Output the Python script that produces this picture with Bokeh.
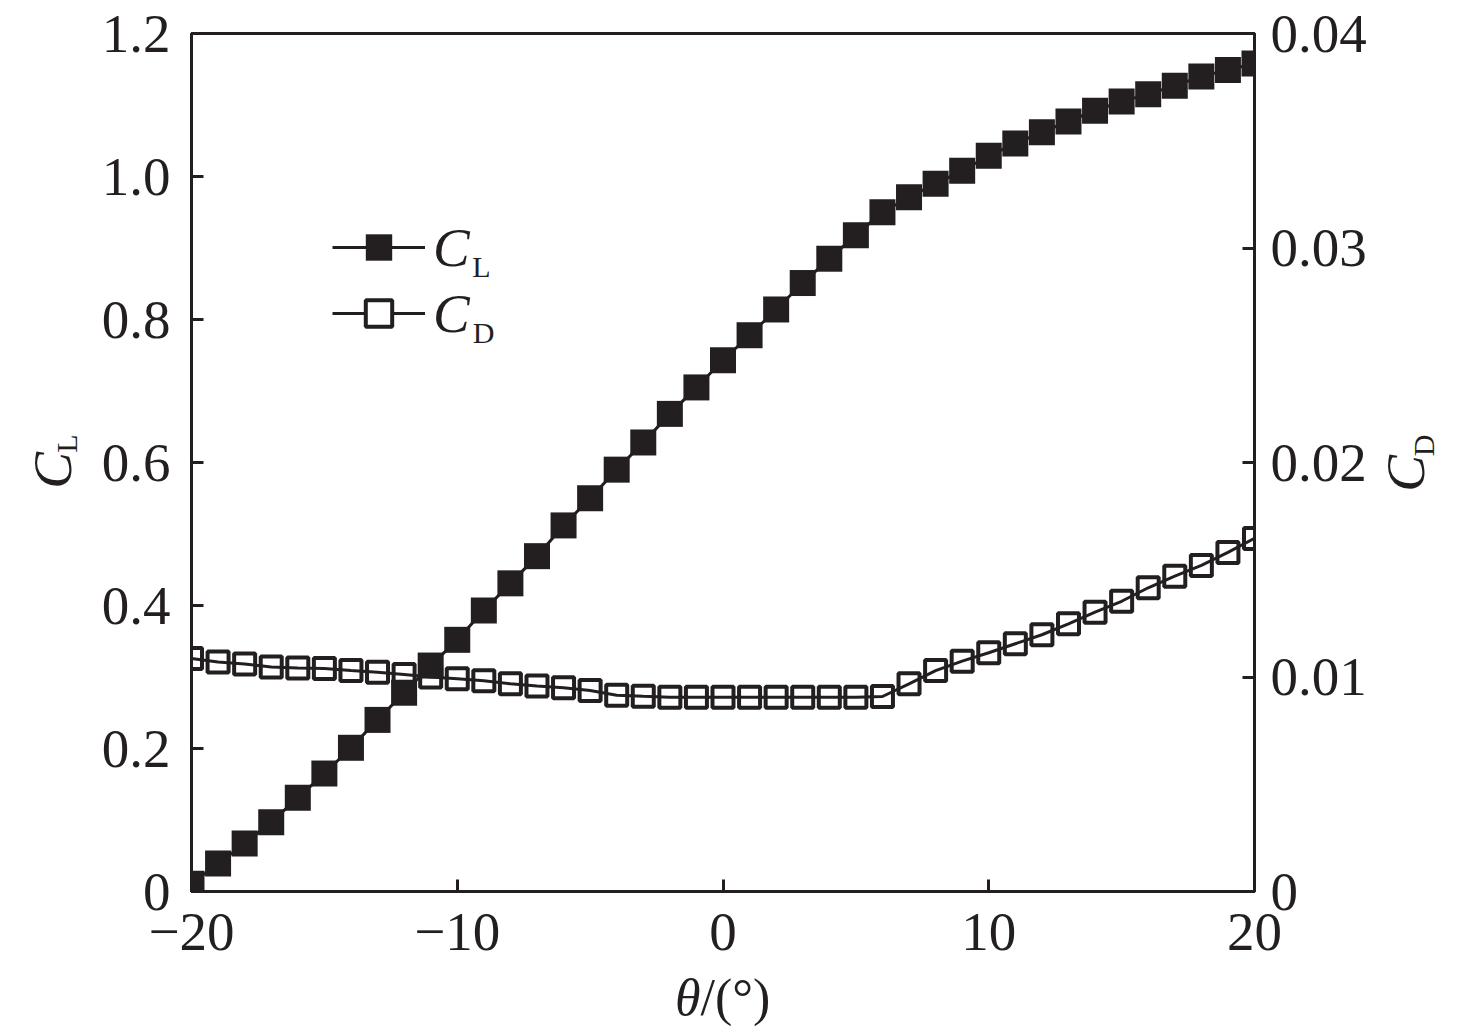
from bokeh.plotting import figure
from bokeh.models import (Range1d, LinearAxis, FixedTicker, CustomJSTickFormatter,
                          Legend, LegendItem, Label)
from bokeh.embed import file_html
from bokeh.resources import INLINE
import math

theta = list(range(-20, 21))
cl = [0.011, 0.039, 0.067, 0.097, 0.131, 0.165, 0.201, 0.240, 0.278, 0.316,
      0.352, 0.393, 0.431, 0.469, 0.512, 0.550, 0.590, 0.628, 0.668, 0.705,
      0.743, 0.778, 0.814, 0.851, 0.885, 0.918, 0.950, 0.971, 0.990, 1.008,
      1.029, 1.046, 1.062, 1.077, 1.092, 1.105, 1.115, 1.127, 1.140, 1.149, 1.158]
cd = [0.01086, 0.01070, 0.01061, 0.01047, 0.01042, 0.01040, 0.01030, 0.01022, 0.01012, 0.01000,
      0.00992, 0.00982, 0.00968, 0.00958, 0.00950, 0.00937, 0.00915, 0.00910, 0.00906, 0.00906,
      0.00906, 0.00906, 0.00906, 0.00906, 0.00906, 0.00906, 0.00909, 0.00968, 0.01030, 0.01074,
      0.01113, 0.01155, 0.01197, 0.01248, 0.01302, 0.01353, 0.01416, 0.01470, 0.01520, 0.01581, 0.01646]

x_ticks = [-20, -10, 0, 10, 20]
cl_ticks = [0, 0.2, 0.4, 0.6, 0.8, 1.0, 1.2]
cd_ticks = [0, 0.01, 0.02, 0.03, 0.04]

INK = "#231f20"
FONT = "Liberation Serif"
TICK_FS = "55px"

p = figure(frame_width=1063, frame_height=858,
           min_border_left=191, min_border_right=214,
           min_border_top=33, min_border_bottom=132,
           x_range=Range1d(-20, 20), y_range=Range1d(0, 1.2),
           output_backend="svg", toolbar_location=None)
p.extra_y_ranges = {"cd": Range1d(0, 0.04)}
p.grid.visible = False
p.background_fill_color = "white"
p.border_fill_color = "white"
p.outline_line_color = INK
p.outline_line_width = 3

# renderers
cd_sq = p.scatter(theta, cd, y_range_name="cd", marker="square", size=21,
                  fill_color="white", line_color=INK, line_width=4)
cd_ln = p.line(theta, cd, y_range_name="cd", line_color=INK, line_width=3)
cl_ln = p.line(theta, cl, line_color=INK, line_width=3)
cl_sq = p.scatter(theta, cl, marker="square", size=26, fill_color=INK, line_color=INK, line_width=0)

def style_axis(ax):
    ax.axis_line_color = INK
    ax.axis_line_width = 3
    ax.major_tick_line_color = INK
    ax.major_tick_line_width = 3
    ax.major_tick_in = 12
    ax.major_tick_out = 0
    ax.minor_tick_line_color = None
    ax.major_label_text_font = FONT
    ax.major_label_text_font_size = TICK_FS
    ax.major_label_text_color = INK

xa = p.xaxis[0]
style_axis(xa)
xa.ticker = FixedTicker(ticks=x_ticks)
xa.formatter = CustomJSTickFormatter(code="return tick < 0 ? '\u2212' + Math.abs(tick) : String(tick);")
xa.major_label_standoff = 22

ya = p.yaxis[0]
style_axis(ya)
ya.ticker = FixedTicker(ticks=cl_ticks)
ya.formatter = CustomJSTickFormatter(code="return tick == 0 ? '0' : tick.toFixed(1);")
ya.major_label_standoff = 21

ra = LinearAxis(y_range_name="cd")
style_axis(ra)
ra.ticker = FixedTicker(ticks=cd_ticks)
ra.formatter = CustomJSTickFormatter(code="return tick == 0 ? '0' : tick.toFixed(2);")
ra.major_label_standoff = 16
p.add_layout(ra, "right")

# legend
legend = Legend(items=[LegendItem(label="C", renderers=[cl_ln, cl_sq]),
                       LegendItem(label="C", renderers=[cd_ln, cd_sq])],
                location=(141, 545), glyph_width=93, glyph_height=66,
                label_standoff=8, spacing=0, padding=0, margin=0,
                border_line_color=None, background_fill_alpha=0,
                label_text_font=FONT, label_text_font_style="italic",
                label_text_font_size="55px", label_text_color=INK)
p.add_layout(legend, "center")

def lab(text, px, py, size, style="normal", angle=0.0, align="center", place="center"):
    # positions in page pixels, converted to offsets from the frame's lower-left corner
    p.add_layout(Label(x=-20, y=0, x_offset=px - 191, y_offset=891 - py, text=text,
                       text_font=FONT, text_font_size=size, text_font_style=style,
                       text_color=INK, angle=angle, text_align=align,
                       text_baseline="middle"), place)

# legend subscripts
lab("L", 481, 266, "30px")
lab("D", 483, 332, "30px")
# axis labels (side panels so they are not clipped to the frame)
lab("C", 52, 470, "55px", "italic", math.pi / 2, place="left")
lab("L", 66, 443, "30px", "normal", math.pi / 2, place="left")
lab("C", 1405, 473, "55px", "italic", math.pi / 2, place="right")
lab("D", 1423, 445, "30px", "normal", math.pi / 2, place="right")
lab("θ", 700, 997, "52px", "italic", 0.0, "right", place="below")
lab("/(°)", 700, 997, "52px", "normal", 0.0, "left", place="below")

open("out.html", "w").write(file_html(p, INLINE))
